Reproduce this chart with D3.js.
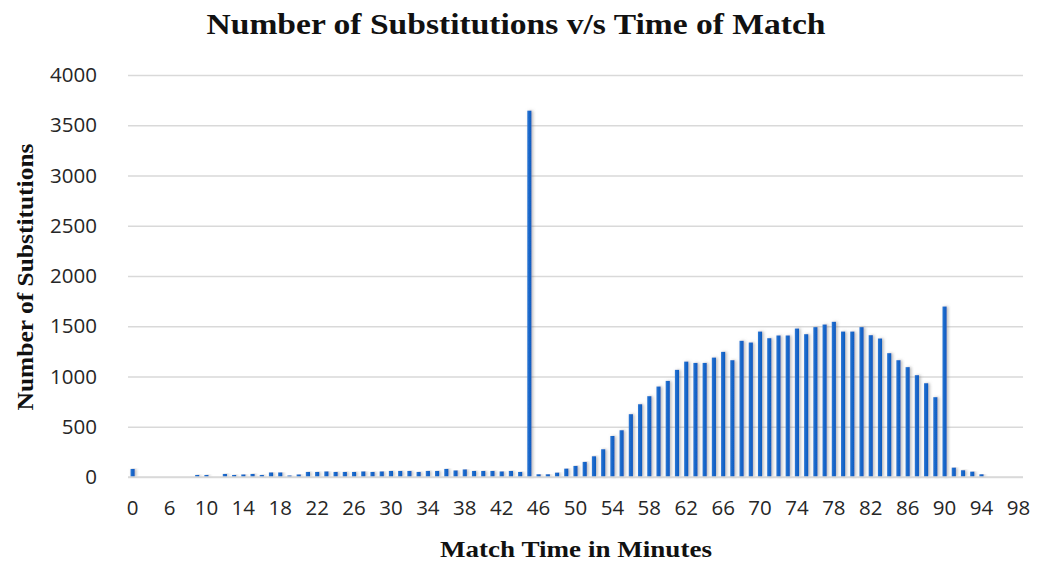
<!DOCTYPE html>
<html>
<head>
<meta charset="utf-8">
<script src="https://cdn.jsdelivr.net/npm/d3@7"></script>
<style>
  html, body { margin: 0; padding: 0; background: #fff; }
  svg { display: block; }
</style>
</head>
<body>
<svg id="chart" width="1049" height="562"></svg>
<script>
// ---- data ----
const minutes = ["0","3","4","5","6","7","8","9","10","11","12","13","14","15","16","17","18","19","20","21","22","23",
  "24","25","26","27","28","29","30","31","32","33","34","35","36","37","38","39","40","41","42","43","44","45",
  "46","47","48","49","50","51","52","53","54","55","56","57","58","59","60","61","62","63","64","65","66","67",
  "68","69","70","71","72","73","74","75","76","77","78","79","80","81","82","83","84","85","86","87","88","89",
  "90","91","92","93","94","95","96","97","98"];
const substitutions = [80,0,0,0,0,0,0,20,20,0,30,20,25,30,20,45,45,15,25,50,50,55,
  50,50,50,55,50,55,60,60,60,50,60,60,80,65,75,60,60,60,55,60,50,3645,
  27,27,43,83,110,150,206,276,408,465,625,724,804,900,956,1066,1148,1135,1135,1188,1245,1162,
  1355,1338,1447,1381,1408,1408,1477,1421,1491,1517,1544,1447,1447,1491,1411,1378,1232,1162,1093,1013,933,794,
  1696,93,67,53,27,0,0,0,0];
const yTicks = [0,500,1000,1500,2000,2500,3000,3500,4000];
const titleText = "Number of Substitutions v/s Time of Match";
const xTitle = "Match Time in Minutes";
const yTitle = "Number of Substitutions";

// ---- layout ----
const svg = d3.select("#chart");
const pLeft = 128, pRight = 1023, pTop = 75, pBottom = 477;

const x = d3.scaleBand().domain(minutes).range([pLeft, pRight]).paddingInner(0.55).paddingOuter(0.275);
const y = d3.scaleLinear().domain([0, 4000]).range([pBottom, pTop]);

const defs = svg.append("defs");
const f = defs.append("filter").attr("id", "shadow").attr("x", "-100%").attr("y", "-5%").attr("width", "300%").attr("height", "110%");
f.append("feDropShadow").attr("dx", 1.5).attr("dy", 0).attr("stdDeviation", 1.8)
  .attr("flood-color", "#7a7a7a").attr("flood-opacity", 0.55);
const g = defs.append("linearGradient").attr("id", "barGrad").attr("x1", 0).attr("x2", 1).attr("y1", 0).attr("y2", 0);
g.append("stop").attr("offset", "0%").attr("stop-color", "#2f7ad6");
g.append("stop").attr("offset", "50%").attr("stop-color", "#1565c8");
g.append("stop").attr("offset", "100%").attr("stop-color", "#0f5cbf");

const tickFont = "'Open Sans', sans-serif";
const serif = "'Liberation Serif', 'Times New Roman', serif";

// gridlines
const yAxis = d3.axisLeft(y).tickValues(yTicks).tickSize(-(pRight - pLeft)).tickPadding(31).tickFormat(d3.format("d"));
const ya = svg.append("g").attr("transform", `translate(${pLeft},0)`).call(yAxis);
ya.select(".domain").remove();
ya.selectAll(".tick line").attr("stroke", "#d9d9d9").attr("stroke-width", 1.5);
ya.selectAll(".tick text").attr("font-family", tickFont).attr("font-size", 20.5).attr("fill", "#262626");

// bars
svg.append("g").selectAll("rect").data(minutes).join("rect")
  .attr("x", (d) => x(d))
  .attr("width", x.bandwidth())
  .attr("y", (d, i) => y(substitutions[i]))
  .attr("height", (d, i) => pBottom - y(substitutions[i]))
  .attr("fill", "url(#barGrad)")
  .attr("filter", "url(#shadow)");

// x axis
const xAxis = d3.axisBottom(x).tickValues(minutes.filter((d, i) => i % 4 === 0)).tickSize(0).tickPadding(23);
const xa = svg.append("g").attr("transform", `translate(0,${pBottom})`).call(xAxis);
xa.select(".domain").attr("stroke", "#d9d9d9").attr("stroke-width", 1.5).attr("d", `M${pLeft},0H${pRight}`);
xa.selectAll(".tick text").attr("font-family", tickFont).attr("font-size", 20.5).attr("fill", "#262626");

// titles
svg.append("text").attr("x", 516).attr("y", 34).attr("text-anchor", "middle")
  .attr("font-family", serif).attr("font-weight", "bold")
  .attr("font-size", 29).attr("fill", "#111")
  .attr("textLength", 619).attr("lengthAdjust", "spacingAndGlyphs").text(titleText);
svg.append("text").attr("x", 576).attr("y", 557).attr("text-anchor", "middle")
  .attr("font-family", serif).attr("font-weight", "bold")
  .attr("font-size", 23).attr("fill", "#111")
  .attr("textLength", 272).attr("lengthAdjust", "spacingAndGlyphs").text(xTitle);
svg.append("text").attr("transform", "translate(33,277) rotate(-90)").attr("text-anchor", "middle")
  .attr("font-family", serif).attr("font-weight", "bold")
  .attr("font-size", 23).attr("fill", "#111")
  .attr("textLength", 267).attr("lengthAdjust", "spacingAndGlyphs").text(yTitle);
</script>
</body>
</html>
